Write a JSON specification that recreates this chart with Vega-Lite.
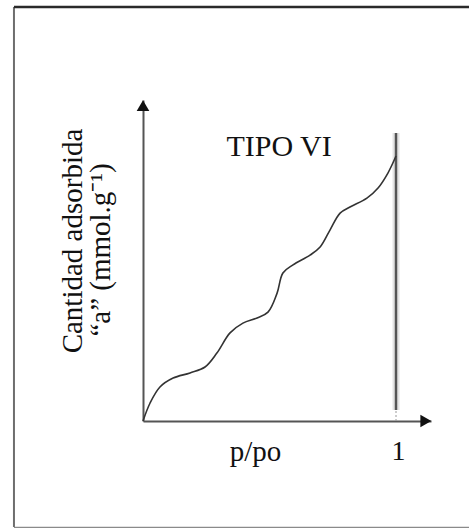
{
  "$schema": "https://vega.github.io/schema/vega-lite/v6.json",
  "width": 288,
  "height": 321,
  "autosize": {"type": "none"},
  "padding": {"left": 143, "top": 100, "right": 38, "bottom": 107},
  "background": "white",
  "config": {"view": {"stroke": null}, "font": "Liberation Serif"},
  "encoding": {
    "x": {"field": "p", "type": "quantitative", "scale": {"domain": [0, 1.1383], "nice": false, "zero": false},
      "axis": {"values": [1], "grid": false, "ticks": false, "domainColor": "#555555", "domainWidth": 2,
        "labelFont": "Liberation Serif", "labelFontSize": 28, "labelColor": "#111111", "labelBaseline": "alphabetic", "labelPadding": 38, "labelOffset": 2,
        "title": "p/po", "titleFont": "Liberation Serif", "titleFontSize": 29, "titleFontWeight": "normal", "titleColor": "#111111",
        "titleX": 112, "titleY": 39, "titleBaseline": "alphabetic", "titleAlign": "center"}},
    "y": {"field": "a", "type": "quantitative", "scale": {"domain": [0, 1.1146], "nice": false, "zero": false},
      "axis": {"grid": false, "ticks": false, "labels": false, "title": null, "domainColor": "#555555", "domainWidth": 2}}
  },
  "layer": [
    {
      "data": {"values": [{"p": -0.51, "a": -0.368, "a2": 1.4375}]},
      "mark": {"type": "rule", "color": "#6e6e6e", "strokeWidth": 2},
      "encoding": {"y2": {"field": "a2"}}
    },
    {
      "data": {"values": [{"p": -0.51, "p2": 1.3, "a": 1.4375}]},
      "mark": {"type": "rule", "color": "#2a2a2a", "strokeWidth": 2.5},
      "encoding": {"x2": {"field": "p2"}}
    },
    {
      "data": {"values": [{"p": -0.51, "p2": 1.3, "a": -0.3698}]},
      "mark": {"type": "rule", "color": "#8a8a8a", "strokeWidth": 1.5},
      "encoding": {"x2": {"field": "p2"}}
    },
    {
      "data": {"values": [{"p": 1.0, "a": 0.038, "a2": 1.0}]},
      "mark": {"type": "rule", "color": "#e4e4e4", "strokeWidth": 7},
      "encoding": {"y2": {"field": "a2"}}
    },
    {
      "data": {"values": [{"p": 1.0, "a": 0.038, "a2": 1.0}]},
      "mark": {"type": "rule", "color": "#555555", "strokeWidth": 2.5},
      "encoding": {"y2": {"field": "a2"}}
    },
    {
      "data": {"values": [{"p": 1.0, "a": 0.0, "a2": 0.038}]},
      "mark": {"type": "rule", "color": "#9a9a9a", "strokeWidth": 1, "strokeDash": [2, 2]},
      "encoding": {"y2": {"field": "a2"}}
    },
    {
      "data": {"values": [
        {"p": 0.0, "a": 0.0},
        {"p": 0.028, "a": 0.0625},
        {"p": 0.067, "a": 0.118},
        {"p": 0.119, "a": 0.149},
        {"p": 0.186, "a": 0.167},
        {"p": 0.245, "a": 0.1875},
        {"p": 0.292, "a": 0.236},
        {"p": 0.344, "a": 0.306},
        {"p": 0.395, "a": 0.34},
        {"p": 0.451, "a": 0.358},
        {"p": 0.494, "a": 0.378},
        {"p": 0.53, "a": 0.444},
        {"p": 0.553, "a": 0.514},
        {"p": 0.593, "a": 0.542},
        {"p": 0.66, "a": 0.576},
        {"p": 0.7, "a": 0.604},
        {"p": 0.739, "a": 0.663},
        {"p": 0.779, "a": 0.722},
        {"p": 0.818, "a": 0.743},
        {"p": 0.885, "a": 0.774},
        {"p": 0.929, "a": 0.809},
        {"p": 0.968, "a": 0.861},
        {"p": 1.0, "a": 0.92}
      ]},
      "mark": {"type": "line", "interpolate": "catmull-rom", "color": "#333333", "strokeWidth": 1.6}
    },
    {
      "data": {"values": [{"p": 0.0, "a": 1.095}]},
      "mark": {"type": "point", "shape": "triangle-up", "size": 160, "filled": true, "color": "#111111", "opacity": 1}
    },
    {
      "data": {"values": [{"p": 1.118, "a": 0.0}]},
      "mark": {"type": "point", "shape": "triangle-right", "size": 160, "filled": true, "color": "#111111", "opacity": 1}
    },
    {
      "data": {"values": [{"p": 0.538, "a": 0.92, "label": "TIPO VI"}]},
      "mark": {"type": "text", "font": "Liberation Serif", "fontSize": 30, "color": "#111111", "align": "center", "baseline": "alphabetic"},
      "encoding": {"text": {"field": "label"}}
    },
    {
      "data": {"values": [
        {"p": -0.241, "a": 0.625, "label": "Cantidad adsorbida"},
        {"p": -0.13, "a": 0.594, "label": "“a” (mmol.g⁻¹)"}
      ]},
      "mark": {"type": "text", "font": "Liberation Serif", "fontSize": 29, "color": "#111111", "align": "center", "baseline": "alphabetic", "angle": 270},
      "encoding": {"text": {"field": "label"}}
    }
  ]
}
